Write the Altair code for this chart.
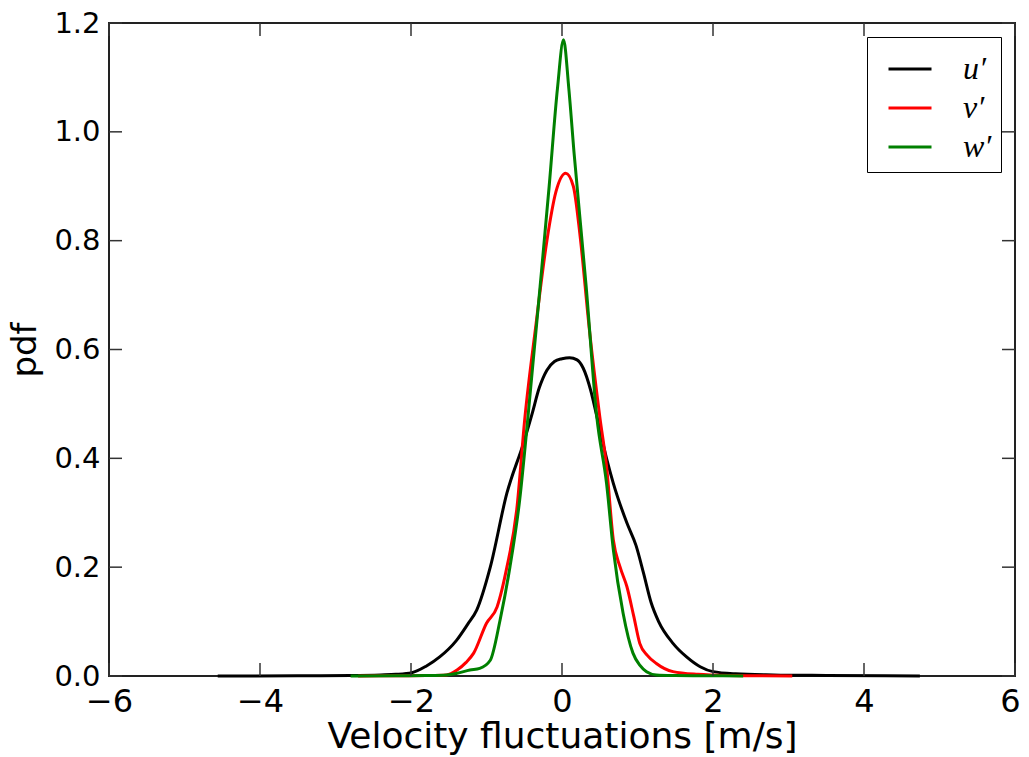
import altair as alt
import pandas as pd

# u' (black)
u_x = [-4.56, -3.5, -2.8, -2.4, -2.2, -1.99, -1.8, -1.62, -1.4, -1.25, -1.13, -0.95, -0.73, -0.51, -0.40, -0.30, -0.20, -0.10, 0.0, 0.10, 0.20, 0.28, 0.38, 0.46, 0.59, 0.68, 0.86, 0.98, 1.08, 1.18, 1.28, 1.47, 1.65, 1.83, 2.0, 2.3, 2.8, 3.5, 4.74]
u_y = [0.0, 0.0005, 0.001, 0.002, 0.003, 0.006, 0.018, 0.035, 0.065, 0.095, 0.121, 0.20, 0.336, 0.428, 0.48, 0.53, 0.562, 0.578, 0.583, 0.585, 0.581, 0.566, 0.525, 0.478, 0.40, 0.354, 0.281, 0.24, 0.189, 0.135, 0.10, 0.060, 0.035, 0.017, 0.008, 0.004, 0.002, 0.001, 0.0]

# v' (red)
v_x = [-2.7, -2.2, -1.8, -1.53, -1.39, -1.27, -1.17, -1.0, -0.86, -0.73, -0.60, -0.49, -0.35, -0.20, -0.08, 0.05, 0.15, 0.24, 0.36, 0.50, 0.59, 0.68, 0.77, 0.86, 0.95, 1.03, 1.13, 1.25, 1.47, 1.8, 2.2, 2.6, 3.05]
v_y = [0.0, 0.0005, 0.001, 0.002, 0.011, 0.025, 0.042, 0.097, 0.127, 0.20, 0.305, 0.477, 0.64, 0.80, 0.89, 0.924, 0.90, 0.808, 0.64, 0.477, 0.385, 0.25, 0.20, 0.164, 0.11, 0.060, 0.038, 0.023, 0.008, 0.003, 0.001, 0.0005, 0.0]

# w' (green)
w_x = [-2.8, -2.2, -1.8, -1.53, -1.39, -1.22, -1.09, -0.95, -0.82, -0.69, -0.56, -0.45, -0.29, -0.17, -0.06, 0.02, 0.09, 0.16, 0.32, 0.46, 0.59, 0.68, 0.81, 0.94, 1.03, 1.12, 1.25, 1.5, 1.9, 2.4]
w_y = [0.0, 0.0005, 0.001, 0.002, 0.005, 0.011, 0.014, 0.029, 0.103, 0.20, 0.324, 0.477, 0.716, 0.90, 1.08, 1.169, 1.08, 0.961, 0.716, 0.477, 0.354, 0.232, 0.115, 0.042, 0.02, 0.008, 0.002, 0.001, 0.0005, 0.0]

series_names = ["u\u2032", "v\u2032", "w\u2032"]
series_colors = ["#000000", "#ff0000", "#008000"]

x_ticks = [-6, -4, -2, 0, 2, 4, 6]
y_ticks = [0.0, 0.2, 0.4, 0.6, 0.8, 1.0, 1.2]

rows = []
for name, xs, ys in zip(series_names, [u_x, v_x, w_x], [u_y, v_y, w_y]):
    for a, b in zip(xs, ys):
        rows.append({"x": a, "y": b, "s": name})
df = pd.DataFrame(rows)
xt = pd.DataFrame({"t": x_ticks})
yt = pd.DataFrame({"t": y_ticks})

W, H = 906, 653
TL = 13

xscale = alt.Scale(domain=[-6, 6], nice=False, zero=False)
yscale = alt.Scale(domain=[0, 1.2], nice=False)

lines = alt.Chart(df).mark_line(strokeWidth=3, interpolate="monotone").encode(
    x=alt.X("x:Q", scale=xscale,
            axis=alt.Axis(values=x_ticks, title="Velocity fluctuations [m/s]", format="d",
                          labelFontSize=32, labelPadding=10, labelFlush=False,
                          labelOffset=alt.condition("datum.value == 6", alt.value(-5), alt.value(0)),
                          titleFontSize=36, titlePadding=2)),
    y=alt.Y("y:Q", scale=yscale,
            axis=alt.Axis(values=y_ticks, title="pdf", format=".1f",
                          labelFontSize=29, labelPadding=9, labelFlush=False,
                          titleFontSize=34, titlePadding=11)),
    color=alt.Color("s:N", scale=alt.Scale(domain=series_names, range=series_colors),
                    legend=alt.Legend(title=None, orient="top-right", offset=14)),
    order=alt.Order("x:Q"),
)

tick_style = dict(color="#333333", strokeWidth=1.5)
xb = alt.Chart(xt).mark_rule(**tick_style).encode(x=alt.X("t:Q", scale=xscale), y=alt.value(H), y2=alt.value(H - TL))
xtp = alt.Chart(xt).mark_rule(**tick_style).encode(x=alt.X("t:Q", scale=xscale), y=alt.value(0), y2=alt.value(TL))
yl = alt.Chart(yt).mark_rule(**tick_style).encode(y=alt.Y("t:Q", scale=yscale), x=alt.value(0), x2=alt.value(TL))
yr = alt.Chart(yt).mark_rule(**tick_style).encode(y=alt.Y("t:Q", scale=yscale), x=alt.value(W), x2=alt.value(W - TL))

chart = alt.layer(lines, xb, xtp, yl, yr).properties(
    width=W, height=H,
    autosize=alt.AutoSizeParams(type="none"),
    padding={"left": 101, "top": 15, "right": 6, "bottom": 82},
).configure_view(
    stroke="#222222", strokeWidth=2
).configure_axis(
    grid=False, domain=False, ticks=False,
    labelFont="DejaVu Sans", titleFont="DejaVu Sans",
    labelColor="black", titleColor="black", titleFontWeight="normal",
).configure_legend(
    strokeColor="black", fillColor="white", padding=9,
    symbolType="stroke", symbolSize=1849, symbolStrokeWidth=3, symbolOffset=11,
    labelFont="Liberation Serif", labelFontStyle="italic", labelFontSize=32,
    labelOffset=30, rowPadding=0, labelColor="black",
)

chart.save("out.html", embed_options={"renderer": "svg", "actions": False})
